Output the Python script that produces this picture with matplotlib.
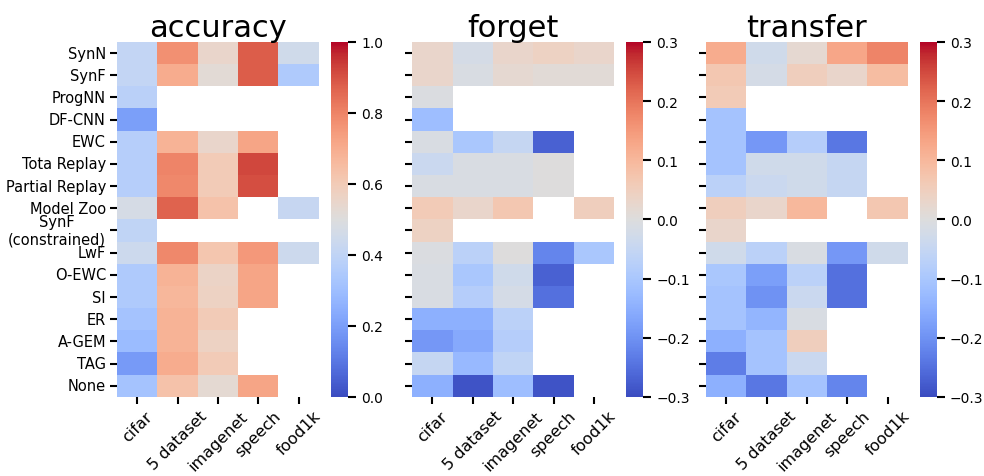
import numpy as np
import pandas as pd
import seaborn as sns
from matplotlib import pyplot as plt

nan = np.nan

methods = ['SynN', 'SynF', 'ProgNN', 'DF-CNN', 'EWC', 'Tota Replay', 'Partial Replay',
           'Model Zoo', 'SynF\n(constrained)', 'LwF', 'O-EWC', 'SI', 'ER', 'A-GEM', 'TAG', 'None']
datasets = ['cifar', '5 dataset', 'imagenet', 'speech', 'food1k']

accuracy = [
    [0.41, 0.77, 0.55, 0.88, 0.45],
    [0.41, 0.70, 0.52, 0.88, 0.35],
    [0.38, nan, nan, nan, nan],
    [0.20, nan, nan, nan, nan],
    [0.37, 0.68, 0.55, 0.72, nan],
    [0.37, 0.80, 0.60, 0.92, nan],
    [0.37, 0.79, 0.60, 0.91, nan],
    [0.47, 0.87, 0.63, nan, 0.42],
    [0.40, nan, nan, nan, nan],
    [0.44, 0.79, 0.62, 0.75, 0.44],
    [0.35, 0.68, 0.56, 0.72, nan],
    [0.35, 0.67, 0.57, 0.72, nan],
    [0.32, 0.68, 0.60, nan, nan],
    [0.29, 0.68, 0.57, nan, nan],
    [0.19, 0.70, 0.60, nan, nan],
    [0.32, 0.63, 0.53, 0.72, nan],
]

forget = [
    [0.03, -0.02, 0.03, 0.04, 0.03],
    [0.03, -0.01, 0.02, 0.01, 0.01],
    [-0.005, nan, nan, nan, nan],
    [-0.12, nan, nan, nan, nan],
    [-0.01, -0.10, -0.05, -0.27, nan],
    [-0.04, -0.01, -0.01, 0.00, nan],
    [-0.01, -0.01, -0.01, 0.00, nan],
    [0.06, 0.03, 0.07, nan, 0.05],
    [0.04, nan, nan, nan, nan],
    [-0.005, -0.07, 0.00, -0.22, -0.10],
    [-0.01, -0.10, -0.03, -0.27, nan],
    [-0.01, -0.08, -0.02, -0.25, nan],
    [-0.15, -0.15, -0.07, nan, nan],
    [-0.19, -0.16, -0.08, nan, nan],
    [-0.05, -0.13, -0.06, nan, nan],
    [-0.15, -0.29, -0.12, -0.29, nan],
]

transfer = [
    [0.12, -0.03, 0.02, 0.13, 0.18],
    [0.07, -0.02, 0.05, 0.03, 0.09],
    [0.06, nan, nan, nan, nan],
    [-0.11, nan, nan, nan, nan],
    [-0.11, -0.19, -0.08, -0.24, nan],
    [-0.11, -0.03, -0.03, -0.05, nan],
    [-0.07, -0.04, -0.03, -0.05, nan],
    [0.05, 0.03, 0.10, nan, 0.07],
    [0.03, nan, nan, nan, nan],
    [-0.03, -0.07, -0.01, -0.19, -0.03],
    [-0.10, -0.18, -0.07, -0.25, nan],
    [-0.11, -0.20, -0.04, -0.25, nan],
    [-0.11, -0.14, -0.01, nan, nan],
    [-0.15, -0.11, 0.05, nan, nan],
    [-0.23, -0.11, -0.04, nan, nan],
    [-0.15, -0.24, -0.11, -0.22, nan],
]

panels = [('accuracy', accuracy, 0.0, 1.0),
          ('forget', forget, -0.3, 0.3),
          ('transfer', transfer, -0.3, 0.3)]

fig = plt.figure(figsize=(9.84, 4.77), dpi=100)
lefts = [0.119, 0.419, 0.7175]
for i, (title, vals, vmin, vmax) in enumerate(panels):
    ax = fig.add_axes([lefts[i], 0.166, 0.205, 0.744])
    cax = fig.add_axes([lefts[i] + 0.217, 0.166, 0.0175, 0.744])
    df = pd.DataFrame(vals, index=methods, columns=datasets)
    sns.heatmap(df, ax=ax, cbar_ax=cax, cmap='coolwarm', vmin=vmin, vmax=vmax)
    ax.set_title(title, fontsize=22, pad=2)
    ax.tick_params(axis='both', length=5, width=1.5, pad=3)
    ax.set_xticklabels(datasets, rotation=45, fontsize=11.5, ha='center')
    if i == 0:
        ax.set_yticklabels(methods, rotation=0, fontsize=10.5)
        for lab in ax.get_yticklabels():
            lab.set_multialignment('center')
    else:
        ax.set_yticklabels([])
    cax.tick_params(length=6, width=1.5, labelsize=10)

fig.savefig('out.png', dpi=100)
